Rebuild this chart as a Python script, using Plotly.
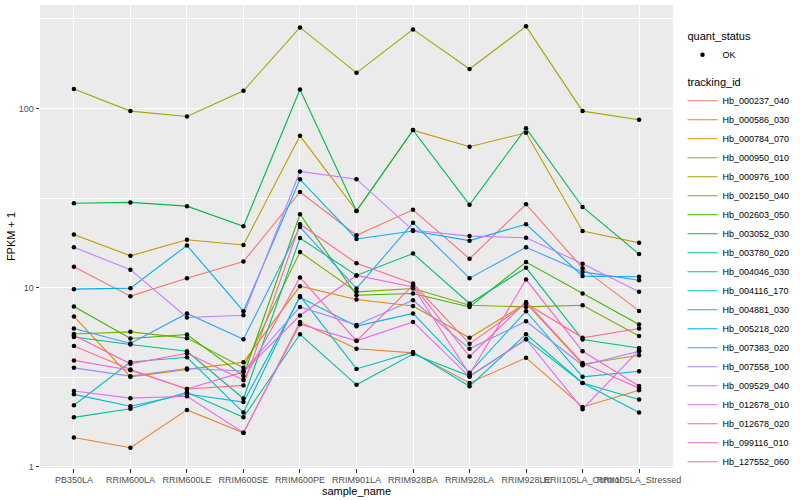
import plotly.graph_objects as go

samples = ["PB350LA", "RRIM600LA", "RRIM600LE", "RRIM600SE", "RRIM600PE", "RRIM901LA",
           "RRIM928BA", "RRIM928LA", "RRIM928LE", "RRII105LA_Control", "RRII105LA_Stressed"]

tracking_ids = ["Hb_000237_040", "Hb_000586_030", "Hb_000784_070", "Hb_000950_010", "Hb_000976_100",
                "Hb_002150_040", "Hb_002603_050", "Hb_003052_030", "Hb_003780_020", "Hb_004046_030",
                "Hb_004116_170", "Hb_004881_030", "Hb_005218_020", "Hb_007383_020", "Hb_007558_100",
                "Hb_009529_040", "Hb_012678_010", "Hb_012678_020", "Hb_099116_010", "Hb_127552_060"]

# FPKM + 1 values, one list per tracking id (order of samples)
Hb_000237_040 = [13.1, 8.97, 11.3, 14.0, 34.2, 19.6, 27.2, 14.5, 29.2, 12.85, 7.42]
Hb_000586_030 = [1.46, 1.28, 2.08, 1.55, 6.44, 4.56, 4.33, 2.94, 4.06, 2.16, 2.68]
Hb_000784_070 = [6.91, 3.18, 3.50, 3.84, 10.2, 8.59, 7.91, 5.25, 8.19, 3.74, 4.20]
Hb_000950_010 = [19.8, 15.05, 18.5, 17.3, 70.3, 26.8, 75.7, 61.1, 73.1, 20.7, 17.8]
Hb_000976_100 = [128.2, 96.6, 90.2, 125.4, 283.0, 158.0, 276.0, 166.0, 287.0, 96.6, 86.4]
Hb_002150_040 = [5.52, 5.67, 5.23, 3.57, 15.8, 9.48, 9.90, 7.98, 7.81, 7.98, 5.38]
Hb_002603_050 = [7.85, 5.21, 5.48, 3.22, 25.7, 9.08, 9.28, 7.81, 13.9, 9.28, 6.23]
Hb_003052_030 = [29.6, 29.9, 28.5, 22.0, 127.6, 26.8, 75.7, 29.0, 77.6, 28.2, 15.4]
Hb_003780_020 = [5.31, 4.82, 4.42, 2.41, 18.9, 11.7, 15.5, 8.16, 12.9, 5.14, 4.61]
Hb_004046_030 = [1.89, 2.11, 2.61, 1.89, 5.50, 2.87, 4.26, 3.21, 5.16, 2.94, 2.38]
Hb_004116_170 = [2.21, 3.85, 4.09, 2.01, 9.0, 3.52, 4.37, 2.82, 5.50, 2.94, 2.01]
Hb_004881_030 = [2.54, 2.18, 2.55, 2.30, 8.85, 6.10, 7.18, 3.35, 7.39, 3.18, 3.42]
Hb_005218_020 = [9.81, 9.94, 17.2, 7.39, 40.2, 18.7, 20.7, 18.3, 22.6, 11.6, 11.5]
Hb_007383_020 = [5.92, 4.88, 7.18, 5.16, 21.8, 9.90, 23.0, 11.3, 16.8, 12.25, 11.0]
Hb_007558_100 = [3.57, 3.21, 3.54, 3.43, 7.81, 6.20, 8.51, 4.56, 6.50, 3.69, 4.42]
Hb_009529_040 = [16.8, 12.6, 6.82, 7.02, 44.5, 40.3, 20.9, 19.4, 19.0, 13.6, 9.48]
Hb_012678_010 = [2.65, 2.42, 2.48, 1.55, 6.25, 5.05, 6.44, 3.18, 5.16, 2.10, 4.48]
Hb_012678_020 = [3.93, 3.46, 2.72, 3.39, 7.0, 11.7, 10.1, 3.29, 11.1, 4.42, 2.83]
Hb_099116_010 = [5.43, 3.76, 4.31, 3.05, 11.4, 5.05, 10.3, 4.13, 8.33, 3.80, 2.75]
Hb_127552_060 = [4.73, 3.50, 2.72, 2.85, 22.6, 13.7, 10.55, 4.86, 8.16, 5.25, 5.92]

series = [Hb_000237_040, Hb_000586_030, Hb_000784_070, Hb_000950_010, Hb_000976_100,
          Hb_002150_040, Hb_002603_050, Hb_003052_030, Hb_003780_020, Hb_004046_030,
          Hb_004116_170, Hb_004881_030, Hb_005218_020, Hb_007383_020, Hb_007558_100,
          Hb_009529_040, Hb_012678_010, Hb_012678_020, Hb_099116_010, Hb_127552_060]

colors = ["#F8766D", "#EA8331", "#D89000", "#C09B00", "#A3A500", "#7CAE00", "#39B600", "#00BB4E",
          "#00BF7D", "#00C1A3", "#00BFC4", "#00BAE0", "#00B0F6", "#35A2FF", "#9590FF", "#C77CFF",
          "#E76BF3", "#FA62DB", "#FF62BC", "#FF6C91"]

FONT = "Liberation Sans, Arial, sans-serif"

fig = go.Figure()
for i, (tid, vals, col) in enumerate(zip(tracking_ids, series, colors)):
    fig.add_trace(go.Scatter(
        x=samples, y=vals, mode="lines", name=tid,
        line=dict(color=col, width=1.1),
        legendgroup="tid", legendgrouptitle=dict(text="tracking_id", font=dict(size=11, color="black")),
        legendrank=100 + i, hoverinfo="skip"))

all_x = [s for vals in series for s in samples]
all_y = [v for vals in series for v in vals]
fig.add_trace(go.Scatter(
    x=all_x, y=all_y, mode="markers", name="OK",
    marker=dict(color="black", size=4.5),
    legendgroup="qs", legendgrouptitle=dict(text="quant_status", font=dict(size=11, color="black")),
    legendrank=1))

fig.update_layout(
    width=800, height=500,
    margin=dict(l=40, r=117, t=5, b=32),
    paper_bgcolor="white", plot_bgcolor="#EBEBEB",
    font=dict(family=FONT, size=9, color="black"),
    showlegend=True,
    legend=dict(x=1.015, xanchor="left", y=0.965, yanchor="top",
                traceorder="grouped", tracegroupgap=8, itemwidth=30,
                font=dict(size=9, color="black"), bgcolor="rgba(0,0,0,0)"),
    xaxis=dict(type="category", range=[-0.6, 10.6], showgrid=True, gridcolor="white", gridwidth=1.07,
               zeroline=False, showline=False, ticks="outside", ticklen=3.5, tickwidth=1,
               tickcolor="#333333", tickangle=0, tickfont=dict(size=9, color="#4D4D4D"),
               title=dict(text="sample_name", font=dict(size=11, color="black"), standoff=1),
               automargin=False),
    yaxis=dict(type="log", range=[-0.006, 2.577], tickvals=[1, 10, 100], ticktext=["1", "10", "100"],
               showgrid=True, gridcolor="white", gridwidth=1.07, zeroline=False, showline=False,
               ticks="outside", ticklen=3.5, tickwidth=1, tickcolor="#333333",
               tickfont=dict(size=9, color="#4D4D4D"),
               minor=dict(tickvals=[10 ** 0.5, 10 ** 1.5, 10 ** 2.5], showgrid=True,
                          gridcolor="white", gridwidth=0.55, ticks=""),
               title=dict(text="FPKM + 1", font=dict(size=11, color="black"), standoff=0),
               automargin=False),
)

fig.write_html("out.html", config={"displayModeBar": False},
               post_script="document.body.style.margin='0';")
